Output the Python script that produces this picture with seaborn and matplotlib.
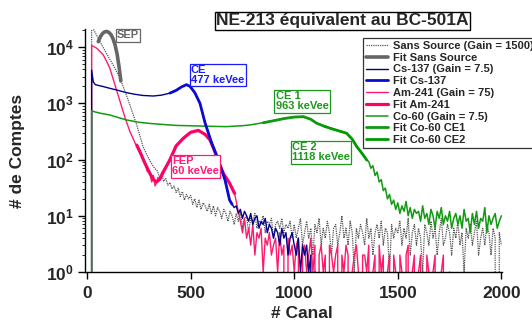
import os

os.environ.setdefault("MPLCONFIGDIR", "/tmp/matplotlib")

import matplotlib

matplotlib.use("Agg")
import matplotlib.pyplot as plt
import numpy as np
import seaborn as sns
from matplotlib.ticker import FixedLocator, FuncFormatter, LogLocator, NullLocator

# ---- data (channel, counts) ----
# Sans Source (no source, gain 1500)
bkg_ch = [0, 18, 22, 30, 60, 100, 130, 160, 200, 240, 270, 300, 320]
bkg_counts = [0, 0, 30000, 21000, 13000, 7000, 4500, 2750, 1100, 410, 170, 100, 75]
bkg_tail_start = 340  # tail sampled every 10 channels
bkg_tail = [
    62, 48, 55, 41, 46, 35, 39, 30, 34, 26, 31, 22, 27, 19, 24, 20,
    23, 16, 20, 14, 19, 13, 17, 15, 12, 16, 11, 15, 10, 14, 12, 9, 13, 11, 8, 12,
    10, 7, 11, 8, 12, 6, 9, 10, 5, 9, 8, 11, 6, 8, 7, 10, 5, 8, 7, 9, 4, 7, 8, 6, 9, 5, 7, 6, 8, 4,
    7, 4, 6, 9, 3, 5, 8, 4, 6, 2, 7, 5, 9, 3, 6, 4, 8, 5, 2, 6, 7, 3, 5, 10, 4,
    6, 3, 8, 5, 1, 6, 4, 7, 5, 3, 9, 4, 6, 2, 5, 7, 4, 8, 3, 6, 5, 1, 7, 4, 6,
    5, 8, 3, 6, 4, 9, 2, 5, 7, 3, 6, 4, 1, 7, 5, 3, 8, 4, 6, 2, 5, 9, 3, 4, 7,
    5, 2, 6, 4, 8, 3, 5, 1, 6, 4, 7, 3, 5, 8, 2, 4, 6, 3, 7, 5, 2, 6, 4, 0, 5, 3,
]
fit_bkg_ch = [54, 65, 75, 85, 95, 105, 115, 125, 135, 145, 155, 163]
fit_bkg_counts = [12500, 15500, 17500, 18700, 19000, 18300, 16800, 14200, 11000, 7500, 4300, 2500]

# Cs-137 (gain 7.5)
cs_ch = [0, 20, 22, 30, 40, 50, 75, 110, 150, 190, 230, 270, 320, 360, 400, 430,
         455, 480, 497, 520, 545, 570, 602, 634, 666, 688, 710]
cs_counts = [0, 0, 3900, 2400, 2150, 2100, 2000, 1850, 1700, 1550, 1450, 1380, 1350, 1400, 1520, 1700,
             1950, 2150, 2000, 1550, 1000, 443, 195, 98, 43, 19, 14]
cs_tail_start = 720
cs_tail = [15, 11, 13, 9, 12, 10, 8, 11, 7, 9, 10, 6, 8, 7, 9, 5, 7, 6,
           4, 6, 5, 3, 6, 4, 5, 2, 4, 5, 3, 2, 4, 1, 3, 2, 3, 1, 2, 0, 1, 0]
fit_cs_ch = [400, 430, 455, 480, 497, 520, 545, 570, 602, 634, 666, 688, 700]
fit_cs_counts = [1520, 1700, 1950, 2150, 2000, 1550, 1000, 443, 195, 98, 43, 19, 16]

# Am-241 (gain 75)
am_ch = [0, 20, 22, 47, 78, 95, 110, 135, 159, 183, 207, 231, 255, 270, 280, 290, 303, 312,
         320, 328, 335, 342, 350, 360, 370, 399, 430, 465, 500, 537, 570, 593, 610, 625,
         640, 660, 688, 712, 730]
am_counts = [0, 0, 10700, 9550, 7300, 5500, 4200, 2100, 1070, 560, 314, 200, 138, 105, 85, 62, 57, 40,
             52, 34, 38, 48, 45, 58, 65, 98, 175, 240, 305, 330, 280, 224, 160, 115,
             80, 55, 38, 25, 12]
am_tail_start = 740
am_tail = [
    8, 5, 9, 4, 6, 3, 7, 2, 5, 4, 6, 1, 4, 3, 5, 2,
    3, 4, 1, 5, 2, 3, 0, 4, 2, 3, 1, 3, 4, 0, 2, 3, 1, 2, 4, 1, 3, 0, 2, 3, 1, 2, 0, 3, 2, 1,
    2, 3, 0, 2, 1, 3, 2, 0, 1, 2, 3, 1, 0, 2, 2, 1, 3, 0, 1, 2, 0, 3, 1, 2, 0, 1, 2, 0, 2, 1,
    0, 2, 1, 0, 2, 3, 0, 1, 2, 0, 1, 2, 0, 0, 2, 1, 0, 1, 2, 0, 0, 1, 2, 0, 0, 1, 0,
]
fit_am_ch = [240, 255, 280, 303, 320, 335, 350, 370, 399, 430, 465, 500, 537, 570, 593, 610,
             625, 640, 660, 688, 712]
fit_am_counts = [180, 138, 85, 57, 44, 40, 44, 62, 98, 175, 240, 305, 330, 280, 224, 160,
                 115, 80, 55, 38, 25]

# Co-60 (gain 7.5)
co_ch = [0, 20, 22, 40, 70, 110, 150, 191, 250, 300, 351, 430, 511, 600, 672, 750, 787, 830,
         870, 915, 960, 1000, 1044, 1080, 1108, 1150, 1189, 1220, 1253, 1280, 1302, 1330, 1350]
co_counts = [0, 0, 740, 700, 660, 620, 560, 506, 460, 440, 425, 405, 398, 390, 385, 400, 413, 440,
             470, 507, 545, 570, 580, 520, 443, 385, 346, 320, 294, 230, 170, 125, 98]
co_tail_start = 1360
co_tail = [
    92, 70, 78, 52, 60, 40, 44, 28, 31, 20,
    24, 16, 19, 13, 17, 11, 15, 12, 18, 10, 14, 9, 13, 11,
    12, 8, 15, 9, 11, 7, 13, 10, 6, 12, 9, 14, 7, 10, 8, 12, 6, 9, 11, 7,
    10, 6, 13, 8, 9, 5, 11, 7, 12, 6, 9, 8, 14, 5, 10, 7, 9, 11, 6, 8, 10,
]
fit_ce1_ch = [850, 900, 950, 1000, 1044, 1080, 1108, 1150]
fit_ce1_counts = [450, 490, 535, 570, 580, 520, 443, 385]
fit_ce2_ch = [1150, 1189, 1220, 1253, 1280, 1302, 1330, 1350]
fit_ce2_counts = [385, 346, 320, 294, 230, 170, 125, 98]


def with_tail(ch, counts, start, tail):
    tail_ch = start + 10 * np.arange(len(tail))
    return np.concatenate([ch, tail_ch]), np.concatenate([counts, tail]).astype(float)


sns.set_style("ticks")
plt.rcParams["font.family"] = ["Liberation Sans", "DejaVu Sans"]
plt.rcParams["font.weight"] = "bold"
plt.rcParams["axes.labelweight"] = "bold"
plt.rcParams["mathtext.fontset"] = "custom"
plt.rcParams["mathtext.bf"] = "Liberation Sans:bold"
plt.rcParams["mathtext.rm"] = "Liberation Sans:bold"

fig = plt.figure(figsize=(5.32, 3.25), dpi=100)
ax = fig.add_axes([85 / 532, 53 / 325, 417 / 532, 243 / 325])

series = [
    ("Sans Source (Gain = 1500)", *with_tail(bkg_ch, bkg_counts, bkg_tail_start, bkg_tail),
     dict(color="#555555", linestyle=(0, (1, 0.8)), lw=0.9, zorder=1)),
    ("Fit Sans Source", fit_bkg_ch, fit_bkg_counts,
     dict(color="#666666", lw=2.6, zorder=6)),
    ("Cs-137 (Gain = 7.5)", *with_tail(cs_ch, cs_counts, cs_tail_start, cs_tail),
     dict(color="#00008b", lw=1.0, zorder=3)),
    ("Fit Cs-137", fit_cs_ch, fit_cs_counts,
     dict(color="#0a0ad0", lw=2.0, zorder=6)),
    ("Am-241 (Gain = 75)", *with_tail(am_ch, am_counts, am_tail_start, am_tail),
     dict(color="#ff1a6e", lw=1.0, zorder=2)),
    ("Fit Am-241", fit_am_ch, fit_am_counts,
     dict(color="#ff0066", lw=2.3, zorder=5)),
    ("Co-60 (Gain = 7.5)", *with_tail(co_ch, co_counts, co_tail_start, co_tail),
     dict(color="#129a12", lw=1.1, zorder=4)),
    ("Fit Co-60 CE1", fit_ce1_ch, fit_ce1_counts,
     dict(color="#119911", lw=2.0, zorder=6)),
    ("Fit Co-60 CE2", fit_ce2_ch, fit_ce2_counts,
     dict(color="#009900", lw=2.0, zorder=6)),
]

handles = []
for label, xs, ys, style in series:
    sns.lineplot(x=np.asarray(xs, float), y=np.asarray(ys, float), ax=ax,
                 estimator=None, sort=False, label=label, **style)
    handles.append(ax.lines[-1])

ax.set_yscale("log", nonpositive="clip")
ax.set_xlim(-10, 2003)
ax.set_ylim(1, 2.1e4)

ax.xaxis.set_major_locator(FixedLocator([0, 500, 1000, 1500, 2000]))
ax.xaxis.set_minor_locator(NullLocator())
ax.yaxis.set_major_locator(LogLocator(base=10, numticks=10))
ax.yaxis.set_minor_locator(LogLocator(base=10, subs=np.arange(2, 10), numticks=20))
ax.yaxis.set_major_formatter(FuncFormatter(lambda v, p: r"$\mathbf{10^{%d}}$" % round(np.log10(v))))
ax.tick_params(axis="both", which="major", direction="out", length=5, width=1,
               labelsize=12.5, color="black", pad=3)
ax.tick_params(axis="x", which="major", pad=5)
ax.tick_params(axis="y", which="minor", direction="out", length=2.5, width=0.7)
for lab in ax.get_xticklabels():
    lab.set_fontweight("bold")

sns.despine(ax=ax)
for side in ("left", "bottom"):
    ax.spines[side].set_linewidth(1.0)
    ax.spines[side].set_color("black")

ax.set_xlabel("# Canal", fontsize=12.5, fontweight="bold", labelpad=5)
ax.xaxis.set_label_coords(0.519, -0.14)
ax.set_ylabel("# de Comptes", fontsize=12.5, fontweight="bold", labelpad=0)
ax.yaxis.set_label_coords(-0.144, 0.5)

leg = ax.legend(handles=handles, loc="upper left", bbox_to_anchor=(0.667, 0.965),
                fontsize=8, frameon=True, fancybox=False, handlelength=1.9,
                handletextpad=0.45, labelspacing=0.16, borderpad=0.3, borderaxespad=0)
leg.get_frame().set_edgecolor("black")
leg.get_frame().set_linewidth(0.9)
leg.set_zorder(10)
for t in leg.get_texts():
    t.set_fontweight("bold")

fig.text(342.5 / 532, 1 - 21 / 325, "NE-213 équivalent au BC-501A", ha="center", va="center",
         fontsize=12.5, fontweight="bold",
         bbox=dict(boxstyle="square,pad=0.1", fc="white", ec="black", lw=1))

boxes = [
    ("SEP", 0.103, 0.974, "#666666"),
    ("CE\n477 keVee", 0.318, 0.811, "#1a1aff"),
    ("CE 1\n963 keVee", 0.521, 0.703, "#1a9a1a"),
    ("CE 2\n1118 keVee", 0.566, 0.493, "#1a9a1a"),
    ("FEP\n60 keVee", 0.265, 0.435, "#ff1a75"),
]
for text, bx, by, col in boxes:
    ax.text(bx, by, text, transform=ax.transAxes, ha="center", va="center",
            multialignment="left", fontsize=8, fontweight="bold", color=col, zorder=12,
            linespacing=1.0,
            bbox=dict(boxstyle="square,pad=0.12", fc="white", ec=col, lw=0.9))

fig.savefig("out.png", dpi=100)
